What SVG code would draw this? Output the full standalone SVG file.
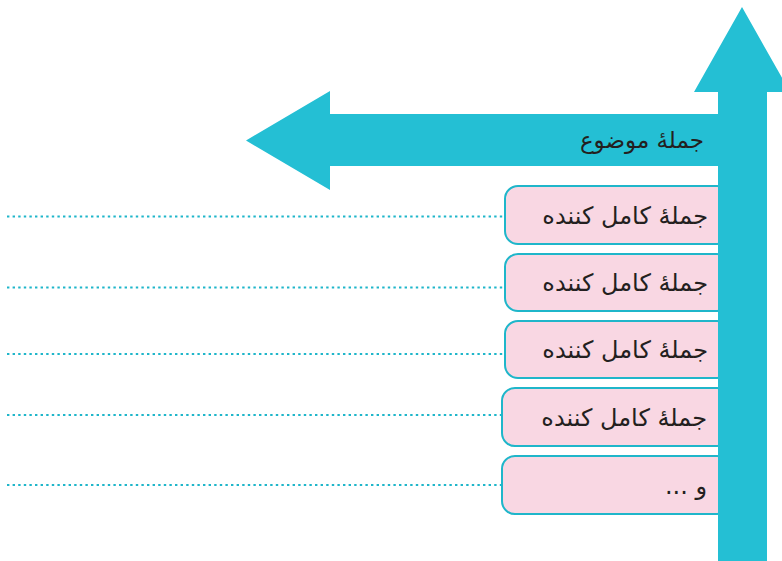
<svg xmlns="http://www.w3.org/2000/svg" width="782" height="561" viewBox="0 0 782 561">
<style>
.arrow{fill:#24bfd4}
.box{fill:#f9d7e3;stroke:#1fb6ca;stroke-width:2}
.dots{stroke:#1fb6ca;stroke-width:2.2;stroke-dasharray:2.4 3.2;fill:none}
.t{font-family:"DejaVu Sans","Noto Sans",sans-serif;fill:#231f20;direction:rtl;text-anchor:start}
</style>
<rect width="782" height="561" fill="#ffffff"/>
<g id="connectors">
<line class="dots" x1="7" y1="216.5" x2="505" y2="216.5"/>
<line class="dots" x1="7" y1="287.5" x2="505" y2="287.5"/>
<line class="dots" x1="7" y1="354" x2="505" y2="354"/>
<line class="dots" x1="7" y1="415" x2="502" y2="415"/>
<line class="dots" x1="7" y1="485" x2="502" y2="485"/>
</g>
<g id="topic">
<polygon class="arrow" points="720,114 330,114 330,91 246,140.5 330,190 330,166 720,166"/>
<text class="t" x="704" y="148" font-size="23" direction="rtl">جملهٔ موضوع</text>
</g>
<g id="box1">
<rect class="box" x="505" y="186" width="225" height="58" rx="13"/>
<text class="t" x="708" y="224" font-size="24" direction="rtl">جملهٔ کامل کننده</text>
</g>
<g id="box2">
<rect class="box" x="505" y="254" width="225" height="57" rx="13"/>
<text class="t" x="708" y="291" font-size="24" direction="rtl">جملهٔ کامل کننده</text>
</g>
<g id="box3">
<rect class="box" x="505" y="321" width="225" height="57" rx="13"/>
<text class="t" x="708" y="358" font-size="24" direction="rtl">جملهٔ کامل کننده</text>
</g>
<g id="box4">
<rect class="box" x="502" y="388" width="228" height="58" rx="13"/>
<text class="t" x="707" y="426" font-size="24" direction="rtl">جملهٔ کامل کننده</text>
</g>
<g id="box5">
<rect class="box" x="502" y="456" width="228" height="58" rx="13"/>
<text class="t" x="707" y="494" font-size="24" direction="rtl">و ...</text>
</g>
<g id="main">
<polygon class="arrow" points="718,561 718,92 694,92 742,7 790,92 767,92 767,561"/>
</g>
</svg>
